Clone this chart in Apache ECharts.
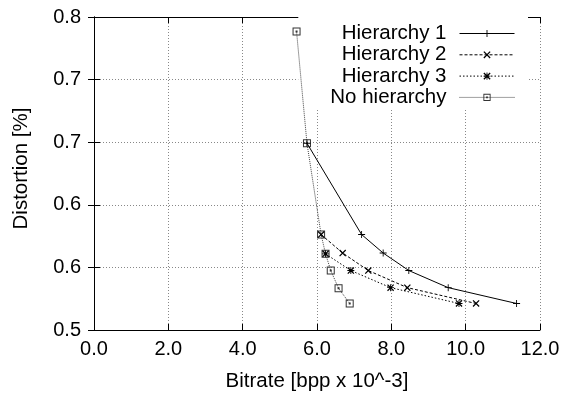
<!DOCTYPE html>
<html><head><meta charset="utf-8">
<script src="https://cdn.jsdelivr.net/npm/echarts@6/dist/echarts.min.js"></script>
<style>html,body{margin:0;padding:0;background:#fff}#c{width:567px;height:397px}</style>
</head><body><div id="c"></div>
<script>
// ---- data ----
const seriesNames = ['Hierarchy 1', 'Hierarchy 2', 'Hierarchy 3', 'No hierarchy'];
const h1X = [5.73, 7.20, 7.78, 8.47, 9.53, 11.37];
const h1Y = [0.679, 0.5915, 0.5738, 0.557, 0.5406, 0.5254];
const h2X = [6.11, 6.69, 7.38, 8.43, 10.28];
const h2Y = [0.5915, 0.5738, 0.557, 0.5406, 0.5254];
const h3X = [6.23, 6.91, 7.98, 9.82];
const h3Y = [0.573, 0.557, 0.5406, 0.5254];
const nhX = [5.45, 5.73, 6.11, 6.23, 6.37, 6.58, 6.88];
const nhY = [0.786, 0.679, 0.5915, 0.573, 0.557, 0.540, 0.5254];
const xTicks = [0, 2, 4, 6, 8, 10, 12];
const yTicks = [0.5, 0.56, 0.62, 0.68, 0.74, 0.8];
const xTitle = 'Bitrate [bpp x 10^-3]';
const yTitle = 'Distortion [%]';

const zip = (xs, ys) => xs.map((x, i) => [x, ys[i]]);
const FONT = 'Liberation Sans, Arial, sans-serif';

const plusSym = 'path://M3.5,0H4.5V8H3.5Z M0,3.5H8V4.5H0Z';
const crossSym = 'path://M0,1L1,0L8,7L7,8Z M7,0L8,1L1,8L0,7Z';
const starSym = 'path://M0,1L1,0L8,7L7,8Z M7,0L8,1L1,8L0,7Z M3.5,0H4.5V8H3.5Z M0,3.5H8V4.5H0Z';
const boxSym = 'path://M0,0H8V8H0Z M1,1V7H7V1Z M3,3H5V5H3Z';

const chart = echarts.init(document.getElementById('c'), null, {renderer: 'canvas'});
const tickCommon = {show: true, inside: true, length: 6, lineStyle: {color: '#000', width: 1}};
chart.setOption({
  animation: false,
  backgroundColor: '#fff',
  grid: {left: 94, right: 27, top: 17, bottom: 64, containLabel: false},
  legend: {
    orient: 'vertical',
    align: 'right',
    right: 39,
    top: 17,
    z: 4,
    padding: [6, 13, 0, 32],
    backgroundColor: '#fff',
    itemWidth: 55,
    itemHeight: 9,
    itemGap: 0.3,
    lineStyle: {width: 1},
    textStyle: {fontFamily: FONT, fontSize: 20.5, color: '#000', lineHeight: 21, padding: [0, 8, 0, 0]},
    data: seriesNames
  },
  xAxis: [{
    type: 'value', min: xTicks[0], max: xTicks[xTicks.length - 1], interval: 2,
    name: xTitle, nameLocation: 'middle', nameGap: 41,
    nameTextStyle: {fontFamily: FONT, fontSize: 20.5, color: '#000'},
    axisLine: {show: true, lineStyle: {color: '#000', width: 1}},
    axisTick: tickCommon,
    axisLabel: {margin: 9, fontFamily: FONT, fontSize: 20, color: '#000', formatter: v => v.toFixed(1)},
    splitLine: {show: true, lineStyle: {color: '#888', type: [1, 2], width: 1}}
  }, {
    type: 'value', position: 'top', min: xTicks[0], max: xTicks[xTicks.length - 1], interval: 2,
    axisLine: {show: true, lineStyle: {color: '#000', width: 1}},
    axisTick: tickCommon, axisLabel: {show: false}, splitLine: {show: false}
  }],
  yAxis: [{
    type: 'value', min: yTicks[0], max: yTicks[yTicks.length - 1], interval: 0.06,
    name: yTitle, nameLocation: 'middle', nameGap: 62,
    nameTextStyle: {fontFamily: FONT, fontSize: 20.5, color: '#000', padding: [0, 0, 0, 10]},
    axisLine: {show: true, lineStyle: {color: '#000', width: 1}},
    axisTick: tickCommon,
    axisLabel: {margin: 13, fontFamily: FONT, fontSize: 20, color: '#000', formatter: v => v.toFixed(1)},
    splitLine: {show: true, lineStyle: {color: '#888', type: [1, 2], width: 1}}
  }, {
    type: 'value', position: 'right', min: yTicks[0], max: yTicks[yTicks.length - 1], interval: 0.06,
    axisLine: {show: true, lineStyle: {color: '#000', width: 1}},
    axisTick: tickCommon, axisLabel: {show: false}, splitLine: {show: false}
  }],
  series: [
    {name: seriesNames[0], type: 'line', data: zip(h1X, h1Y), symbol: plusSym, symbolSize: 7,
     lineStyle: {color: '#000', width: 1, type: 'solid'}, itemStyle: {color: '#000'}, z: 8},
    {name: seriesNames[1], type: 'line', data: zip(h2X, h2Y), symbol: crossSym, symbolSize: 7,
     lineStyle: {color: '#000', width: 1, type: [3, 2]}, itemStyle: {color: '#000'}, z: 7},
    {name: seriesNames[2], type: 'line', data: zip(h3X, h3Y), symbol: starSym, symbolSize: 7,
     lineStyle: {color: '#000', width: 1, type: [1.5, 2]}, itemStyle: {color: '#000'}, z: 7},
    {name: seriesNames[3], type: 'line', data: zip(nhX, nhY), symbol: boxSym, symbolSize: 8,
     lineStyle: {color: '#444', width: 1, type: [1, 1]}, itemStyle: {color: '#333'}, z: 6}
  ]
});
</script></body></html>
